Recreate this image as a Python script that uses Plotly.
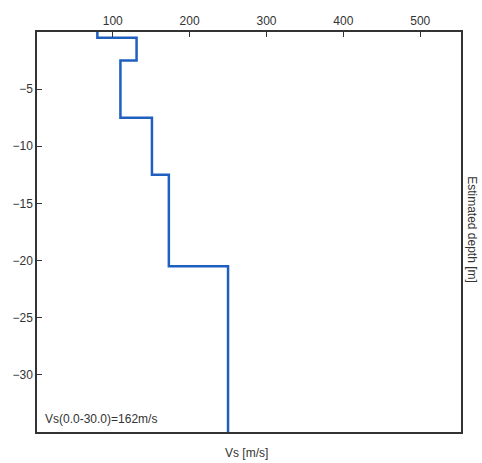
import plotly.graph_objects as go

# Layer data
layer_top = [0.0, -0.5, -2.5, -7.5, -12.5, -20.5]
layer_bottom = [-0.5, -2.5, -7.5, -12.5, -20.5, -35.0]
vs = [80, 131, 110, 151, 173, 250]

xs, ys = [], []
for t, b, v in zip(layer_top, layer_bottom, vs):
    xs += [v, v]
    ys += [t, b]

fig = go.Figure()
fig.add_trace(go.Scatter(x=xs, y=ys, mode="lines",
                         line=dict(color="#1f5fc0", width=2.5),
                         showlegend=False, hoverinfo="skip"))

font = dict(family="Liberation Sans, Arial, sans-serif", size=12, color="#333333")
fig.update_layout(
    width=482, height=463,
    margin=dict(l=32, r=21, t=32, b=31),
    paper_bgcolor="white", plot_bgcolor="white",
    font=font,
    xaxis=dict(range=[1.5, 553], side="top", tickvals=[100, 200, 300, 400, 500],
               ticks="inside", ticklen=5, tickcolor="#333", showline=True, linecolor="#333",
               linewidth=1.5, mirror=True, showgrid=False, zeroline=False),
    yaxis=dict(range=[-35, 0], tickvals=[-5, -10, -15, -20, -25, -30],
               ticks="inside", ticklen=5, tickcolor="#333", showline=True, linecolor="#333",
               linewidth=1.5, mirror=True, showgrid=False, zeroline=False),
    annotations=[
        dict(text="Vs(0.0-30.0)=162m/s", xref="paper", yref="paper", x=0.015, y=0.01,
             xanchor="left", yanchor="bottom", showarrow=False, font=font),
        dict(text="Vs [m/s]", xref="paper", yref="paper", x=0.495, y=-0.03,
             xanchor="center", yanchor="top", showarrow=False, font=font),
        dict(text="Estimated depth [m]", xref="paper", yref="paper", x=1.0256, y=0.505,
             xanchor="center", yanchor="middle", textangle=90, showarrow=False, font=font),
    ],
)
fig.write_html("out.html")
